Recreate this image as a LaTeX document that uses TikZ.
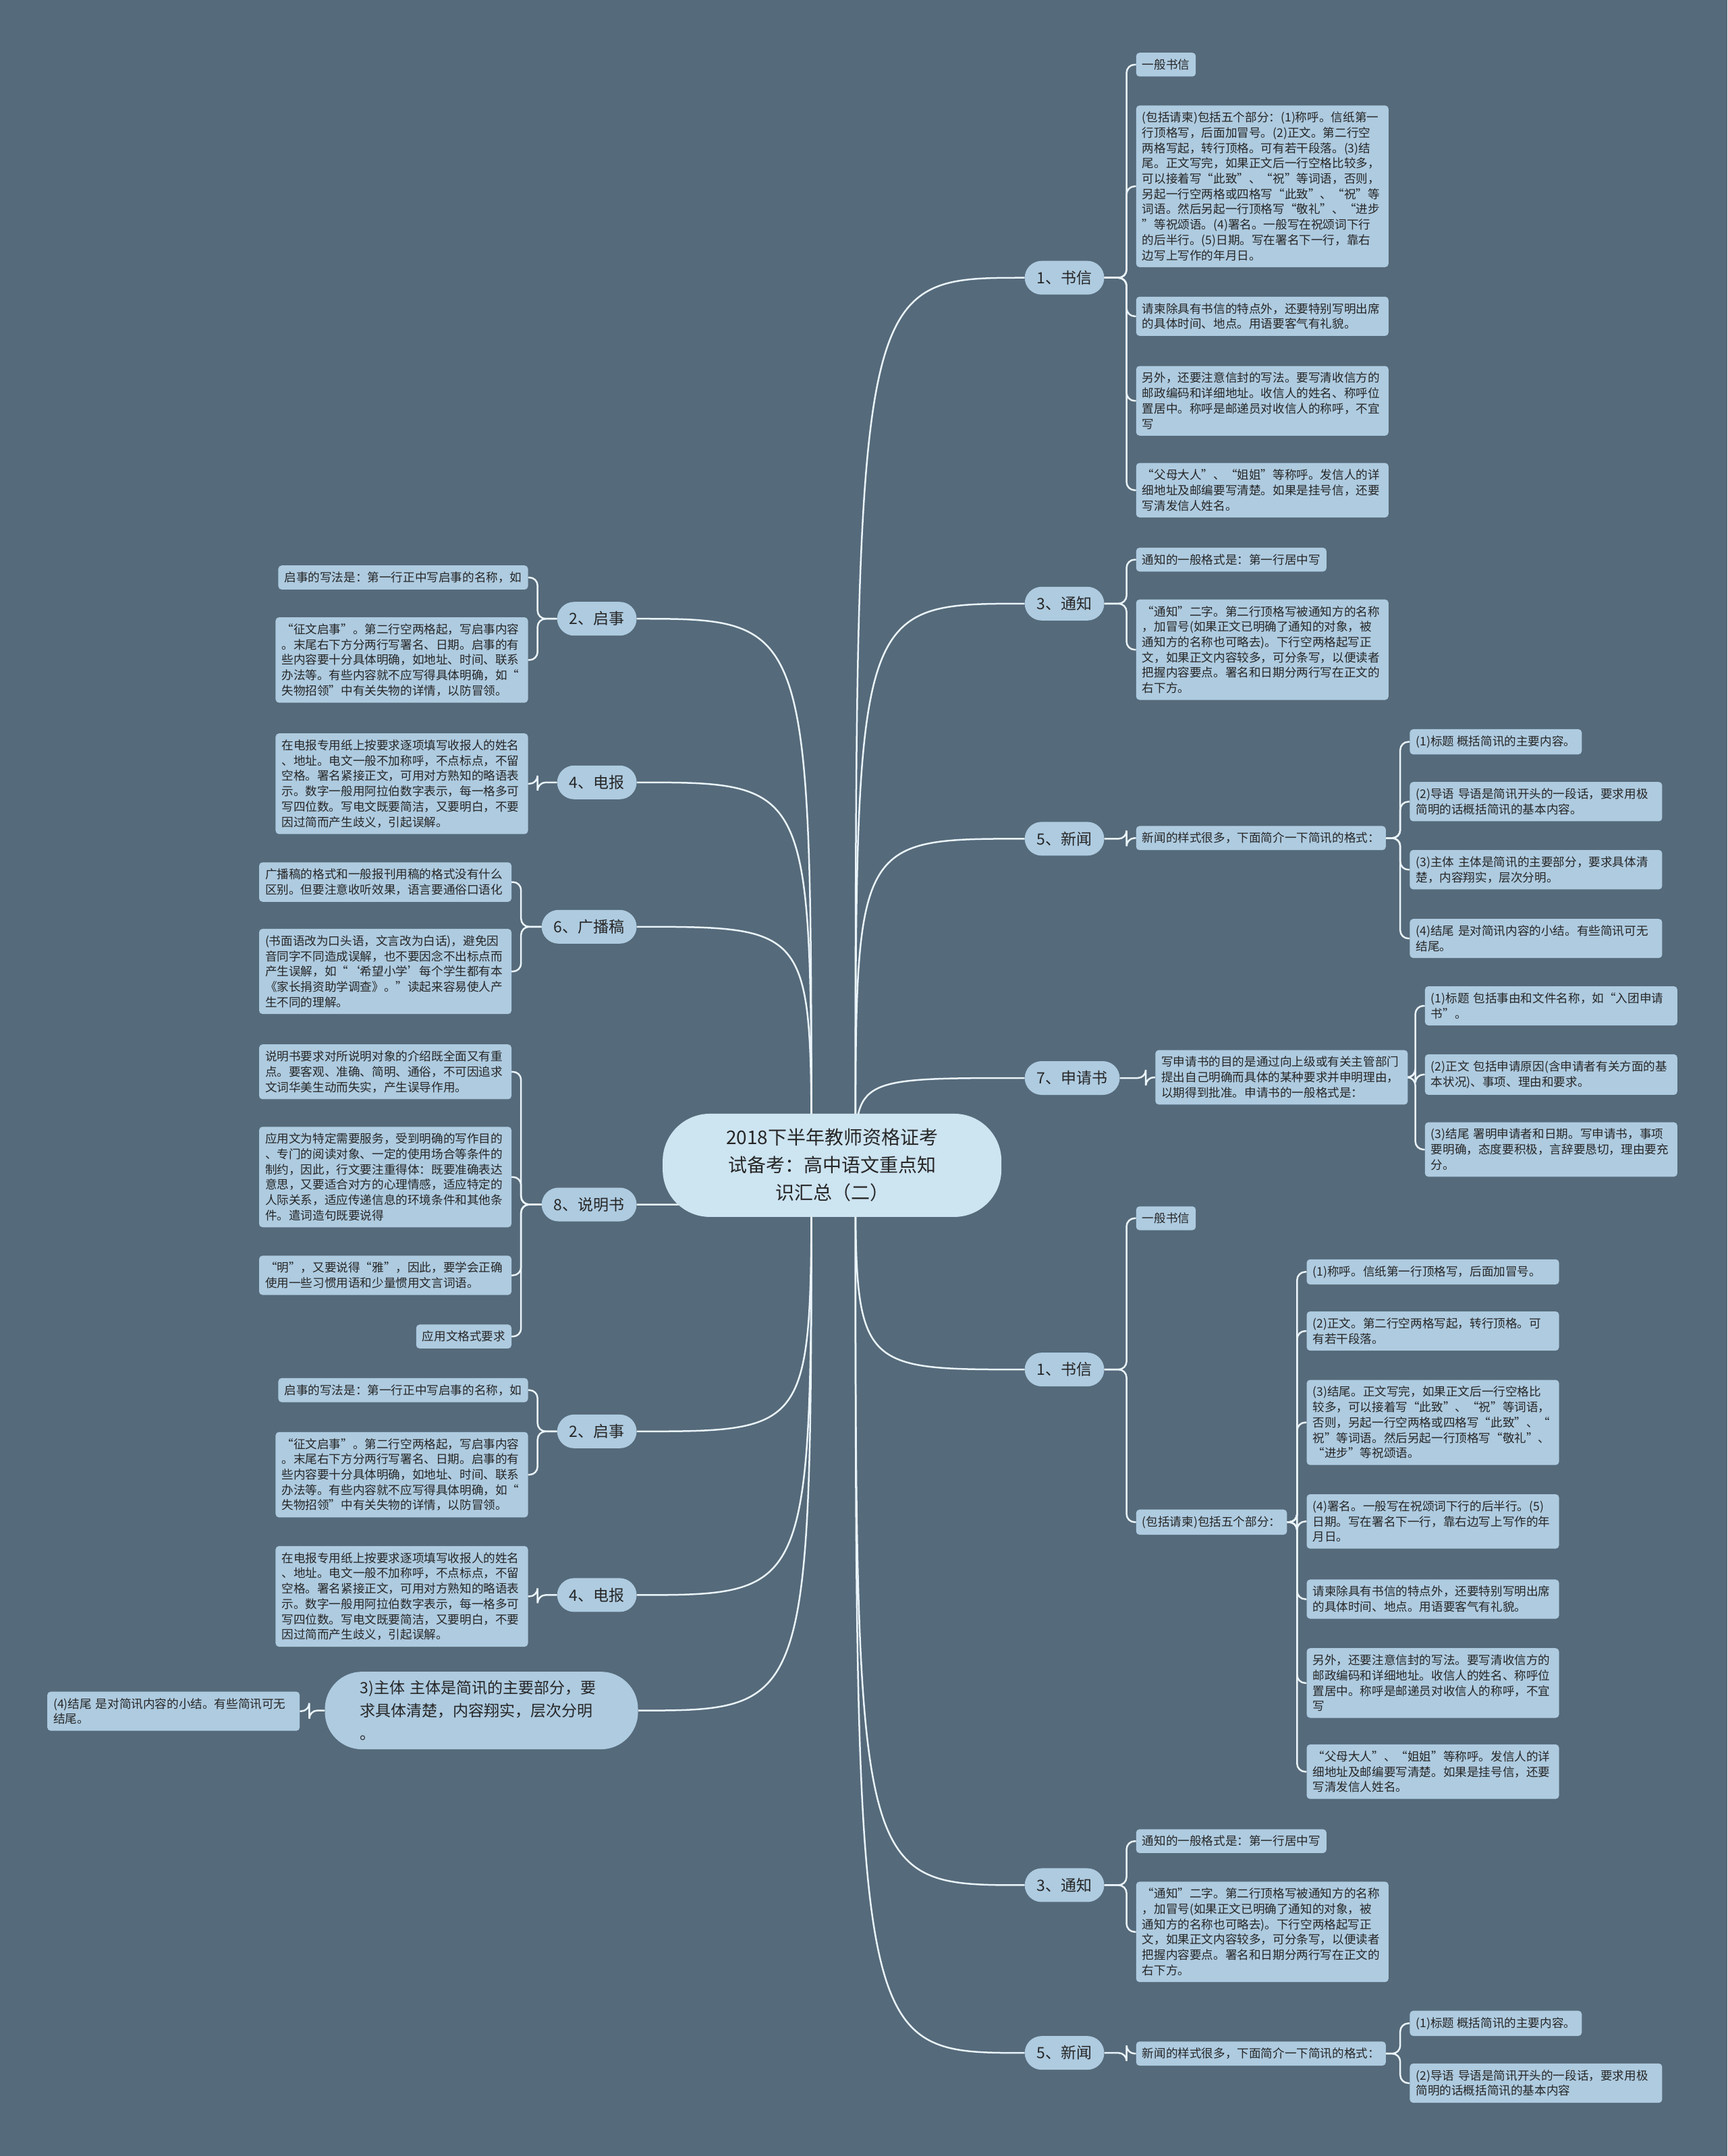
\documentclass[tikz,border=0pt]{standalone}
\usepackage{fontspec}
\setmainfont{Noto Sans CJK SC}
\definecolor{bgcol}{HTML}{556A7A}
\definecolor{boxcol}{HTML}{AECBE0}
\definecolor{rootcol}{HTML}{CDE4F1}
\definecolor{linecol}{HTML}{EAF4FA}
\definecolor{inkcol}{HTML}{262626}
\pgfdeclarelayer{back}
\pgfsetlayers{back,main}

\begin{document}
\begin{tikzpicture}[x=2.0382pt, y=-2.0382pt]
\tikzstyle{root}=[fill=rootcol, text=inkcol, rounded corners=70pt, align=center, minimum width=502pt, minimum height=153pt, font=\fontsize{28pt}{41pt}\selectfont]
\tikzstyle{topic}=[fill=boxcol, text=inkcol, rounded corners=25pt, minimum height=50pt, inner xsep=18pt, font=\fontsize{23pt}{30pt}\selectfont]
\tikzstyle{bigtopic}=[fill=boxcol, text=inkcol, rounded corners=55pt, minimum height=115pt, text width=360pt, align=left, inner xsep=52pt, inner ysep=12pt, font=\fontsize{23pt}{34pt}\selectfont]
\tikzstyle{leaf}=[fill=boxcol, text=inkcol, rounded corners=5pt, inner xsep=9pt, inner ysep=9.5pt, align=left, font=\fontsize{17.6pt}{22.7pt}\selectfont]
\tikzstyle{wide}=[leaf, text width=356pt]
\tikzstyle{hubr}=[draw=linecol, line width=2.5pt, to path={(\tikztostart) .. controls (\tikztostart |- \tikztotarget.west) .. (\tikztotarget.west)}]
\tikzstyle{hubl}=[draw=linecol, line width=2.5pt, to path={(\tikztostart) .. controls (\tikztostart |- \tikztotarget.east) .. (\tikztotarget.east)}]
\tikzstyle{rbr}=[draw=linecol, line width=2.5pt, rounded corners=12pt, to path={(\tikztostart) -| ([xshift=-14pt]\tikztotarget.west) -- (\tikztotarget.west)}]
\tikzstyle{lbr}=[draw=linecol, line width=2.5pt, rounded corners=12pt, to path={(\tikztostart) -| ([xshift=14pt]\tikztotarget.east) -- (\tikztotarget.east)}]

\useasboundingbox (0,0) rectangle (1256,1568);

\node[root] (top) at (605,847.5) {2018下半年教师资格证考\\试备考：高中语文重点知\\识汇总（二）};

% right side
\node[topic, anchor=west] (sx) at (745,202) {1、书信};
\node[leaf, anchor=west] (sxa) at (826,47) {一般书信};
\node[wide, anchor=west] (sxb) at (826,135.5) {(包括请柬)包括五个部分：(1)称呼。信纸第一\\行顶格写，后面加冒号。(2)正文。第二行空\\两格写起，转行顶格。可有若干段落。(3)结\\尾。正文写完，如果正文后一行空格比较多，\\可以接着写“此致”、“祝”等词语，否则，\\另起一行空两格或四格写“此致”、“祝”等\\词语。然后另起一行顶格写“敬礼”、“进步\\”等祝颂语。(4)署名。一般写在祝颂词下行\\的后半行。(5)日期。写在署名下一行，靠右\\边写上写作的年月日。};
\node[wide, anchor=west] (sxc) at (826,230) {请柬除具有书信的特点外，还要特别写明出席\\的具体时间、地点。用语要客气有礼貌。};
\node[wide, anchor=west] (sxd) at (826,291.5) {另外，还要注意信封的写法。要写清收信方的\\邮政编码和详细地址。收信人的姓名、称呼位\\置居中。称呼是邮递员对收信人的称呼，不宜\\写};
\node[wide, anchor=west] (sxe) at (826,356.5) {“父母大人”、“姐姐”等称呼。发信人的详\\细地址及邮编要写清楚。如果是挂号信，还要\\写清发信人姓名。};

\node[topic, anchor=west] (tz) at (745,439) {3、通知};
\node[leaf, anchor=west] (tza) at (826,407) {通知的一般格式是：第一行居中写};
\node[wide, anchor=west] (tzb) at (826,472.5) {“通知”二字。第二行顶格写被通知方的名称\\，加冒号(如果正文已明确了通知的对象，被\\通知方的名称也可略去)。下行空两格起写正\\文，如果正文内容较多，可分条写，以便读者\\把握内容要点。署名和日期分两行写在正文的\\右下方。};

\node[topic, anchor=west] (xw) at (745,610) {5、新闻};
\node[leaf, anchor=west] (xwa) at (826,609.5) {新闻的样式很多，下面简介一下简讯的格式：};
\node[leaf, anchor=west] (xwa1) at (1025,539.5) {(1)标题 概括简讯的主要内容。};
\node[wide, anchor=west] (xwa2) at (1025,583) {(2)导语 导语是简讯开头的一段话，要求用极\\简明的话概括简讯的基本内容。};
\node[wide, anchor=west] (xwa3) at (1025,632.5) {(3)主体 主体是简讯的主要部分，要求具体清\\楚，内容翔实，层次分明。};
\node[wide, anchor=west] (xwa4) at (1025,682.5) {(4)结尾 是对简讯内容的小结。有些简讯可无\\结尾。};

\node[topic, anchor=west] (sq) at (745,784) {7、申请书};
\node[wide, anchor=west] (sqa) at (840,783.5) {写申请书的目的是通过向上级或有关主管部门\\提出自己明确而具体的某种要求并申明理由，\\以期得到批准。申请书的一般格式是：};
\node[wide, anchor=west] (sqa1) at (1036,731.5) {(1)标题 包括事由和文件名称，如“入团申请\\书”。};
\node[wide, anchor=west] (sqa2) at (1036,781.5) {(2)正文 包括申请原因(含申请者有关方面的基\\本状况)、事项、理由和要求。};
\node[wide, anchor=west] (sqa3) at (1036,836) {(3)结尾 署明申请者和日期。写申请书，事项\\要明确，态度要积极，言辞要恳切，理由要充\\分。};

\node[topic, anchor=west] (sx2) at (745,996) {1、书信};
\node[leaf, anchor=west] (sx2a) at (826,886) {一般书信};
\node[leaf, anchor=west] (sx2b) at (826,1107) {(包括请柬)包括五个部分：};
\node[wide, anchor=west] (sx2b1) at (950,925) {(1)称呼。信纸第一行顶格写，后面加冒号。};
\node[wide, anchor=west] (sx2b2) at (950,968) {(2)正文。第二行空两格写起，转行顶格。可\\有若干段落。};
\node[wide, anchor=west] (sx2b3) at (950,1034.5) {(3)结尾。正文写完，如果正文后一行空格比\\较多，可以接着写“此致”、“祝”等词语，\\否则，另起一行空两格或四格写“此致”、“\\祝”等词语。然后另起一行顶格写“敬礼”、\\“进步”等祝颂语。};
\node[wide, anchor=west] (sx2b4) at (950,1106.5) {(4)署名。一般写在祝颂词下行的后半行。(5)\\日期。写在署名下一行，靠右边写上写作的年\\月日。};
\node[wide, anchor=west] (sx2b5) at (950,1163) {请柬除具有书信的特点外，还要特别写明出席\\的具体时间、地点。用语要客气有礼貌。};
\node[wide, anchor=west] (sx2b6) at (950,1224) {另外，还要注意信封的写法。要写清收信方的\\邮政编码和详细地址。收信人的姓名、称呼位\\置居中。称呼是邮递员对收信人的称呼，不宜\\写};
\node[wide, anchor=west] (sx2b7) at (950,1288.5) {“父母大人”、“姐姐”等称呼。发信人的详\\细地址及邮编要写清楚。如果是挂号信，还要\\写清发信人姓名。};

\node[topic, anchor=west] (tz2) at (745,1371) {3、通知};
\node[leaf, anchor=west] (tz2a) at (826,1339) {通知的一般格式是：第一行居中写};
\node[wide, anchor=west] (tz2b) at (826,1405) {“通知”二字。第二行顶格写被通知方的名称\\，加冒号(如果正文已明确了通知的对象，被\\通知方的名称也可略去)。下行空两格起写正\\文，如果正文内容较多，可分条写，以便读者\\把握内容要点。署名和日期分两行写在正文的\\右下方。};

\node[topic, anchor=west] (xw2) at (745,1493) {5、新闻};
\node[leaf, anchor=west] (xw2a) at (826,1493.5) {新闻的样式很多，下面简介一下简讯的格式：};
\node[leaf, anchor=west] (xw2a1) at (1025,1471.5) {(1)标题 概括简讯的主要内容。};
\node[wide, anchor=west] (xw2a2) at (1025,1515) {(2)导语 导语是简讯开头的一段话，要求用极\\简明的话概括简讯的基本内容};

% left side
\node[topic, anchor=east] (qs) at (463,450) {2、启事};
\node[leaf, anchor=east] (qsa) at (384,420) {启事的写法是：第一行正中写启事的名称，如};
\node[wide, anchor=east] (qsb) at (384,480) {“征文启事”。第二行空两格起，写启事内容\\。末尾右下方分两行写署名、日期。启事的有\\些内容要十分具体明确，如地址、时间、联系\\办法等。有些内容就不应写得具体明确，如“\\失物招领”中有关失物的详情，以防冒领。};

\node[topic, anchor=east] (db) at (463,569) {4、电报};
\node[wide, anchor=east] (dba) at (384,570) {在电报专用纸上按要求逐项填写收报人的姓名\\、地址。电文一般不加称呼，不点标点，不留\\空格。署名紧接正文，可用对方熟知的略语表\\示。数字一般用阿拉伯数字表示，每一格多可\\写四位数。写电文既要简洁，又要明白，不要\\因过简而产生歧义，引起误解。};

\node[topic, anchor=east] (gb) at (463,674) {6、广播稿};
\node[wide, anchor=east] (gba) at (372,641.5) {广播稿的格式和一般报刊用稿的格式没有什么\\区别。但要注意收听效果，语言要通俗口语化};
\node[wide, anchor=east] (gbb) at (372,706.5) {(书面语改为口头语，文言改为白话)，避免因\\音同字不同造成误解，也不要因念不出标点而\\产生误解，如“‘希望小学’每个学生都有本\\《家长捐资助学调查》。”读起来容易使人产\\生不同的理解。};

\node[topic, anchor=east] (sm) at (463,876) {8、说明书};
\node[wide, anchor=east] (sma) at (372,779.5) {说明书要求对所说明对象的介绍既全面又有重\\点。要客观、准确、简明、通俗，不可因追求\\文词华美生动而失实，产生误导作用。};
\node[wide, anchor=east] (smb) at (372,856) {应用文为特定需要服务，受到明确的写作目的\\、专门的阅读对象、一定的使用场合等条件的\\制约，因此，行文要注重得体：既要准确表达\\意思，又要适合对方的心理情感，适应特定的\\人际关系，适应传递信息的环境条件和其他条\\件。遣词造句既要说得};
\node[wide, anchor=east] (smc) at (372,927.5) {“明”，又要说得“雅”，因此，要学会正确\\使用一些习惯用语和少量惯用文言词语。};
\node[leaf, anchor=east] (smd) at (372,972) {应用文格式要求};

\node[topic, anchor=east] (qs2) at (463,1041) {2、启事};
\node[leaf, anchor=east] (qs2a) at (384,1011) {启事的写法是：第一行正中写启事的名称，如};
\node[wide, anchor=east] (qs2b) at (384,1072.5) {“征文启事”。第二行空两格起，写启事内容\\。末尾右下方分两行写署名、日期。启事的有\\些内容要十分具体明确，如地址、时间、联系\\办法等。有些内容就不应写得具体明确，如“\\失物招领”中有关失物的详情，以防冒领。};

\node[topic, anchor=east] (db2) at (463,1160) {4、电报};
\node[wide, anchor=east] (db2a) at (384,1161) {在电报专用纸上按要求逐项填写收报人的姓名\\、地址。电文一般不加称呼，不点标点，不留\\空格。署名紧接正文，可用对方熟知的略语表\\示。数字一般用阿拉伯数字表示，每一格多可\\写四位数。写电文既要简洁，又要明白，不要\\因过简而产生歧义，引起误解。};

\node[bigtopic, anchor=east] (zt) at (464,1244) {3)主体 主体是简讯的主要部分，要\\求具体清楚，内容翔实，层次分明\\。};
\node[wide, anchor=east] (zta) at (218,1244.5) {(4)结尾 是对简讯内容的小结。有些简讯可无\\结尾。};

\begin{pgfonlayer}{back}
\fill[bgcol] (0,0) rectangle (1256,1568);
\coordinate (hubR) at (622,847.5);
\coordinate (hubL) at (590,847.5);

\path (hubR) edge[hubr] (sx) edge[hubr] (tz) edge[hubr] (xw) edge[hubr] (sq)
             edge[hubr] (sx2) edge[hubr] (tz2) edge[hubr] (xw2);
\path (hubL) edge[hubl] (qs) edge[hubl] (db) edge[hubl] (gb) edge[hubl] (sm)
             edge[hubl] (qs2) edge[hubl] (db2) edge[hubl] (zt);

\path (sx.east) edge[rbr] (sxa) edge[rbr] (sxb) edge[rbr] (sxc)
                edge[rbr] (sxd) edge[rbr] (sxe);
\path (tz.east) edge[rbr] (tza) edge[rbr] (tzb);
\path (xw.east) edge[rbr] (xwa);
\path (xwa.east) edge[rbr] (xwa1) edge[rbr] (xwa2) edge[rbr] (xwa3) edge[rbr] (xwa4);
\path (sq.east) edge[rbr] (sqa);
\path (sqa.east) edge[rbr] (sqa1) edge[rbr] (sqa2) edge[rbr] (sqa3);
\path (sx2.east) edge[rbr] (sx2a) edge[rbr] (sx2b);
\path (sx2b.east) edge[rbr] (sx2b1) edge[rbr] (sx2b2) edge[rbr] (sx2b3)
                  edge[rbr] (sx2b4) edge[rbr] (sx2b5) edge[rbr] (sx2b6)
                  edge[rbr] (sx2b7);
\path (tz2.east) edge[rbr] (tz2a) edge[rbr] (tz2b);
\path (xw2.east) edge[rbr] (xw2a);
\path (xw2a.east) edge[rbr] (xw2a1) edge[rbr] (xw2a2);

\path (qs.west) edge[lbr] (qsa) edge[lbr] (qsb);
\path (db.west) edge[lbr] (dba);
\path (gb.west) edge[lbr] (gba) edge[lbr] (gbb);
\path (sm.west) edge[lbr] (sma) edge[lbr] (smb) edge[lbr] (smc) edge[lbr] (smd);
\path (qs2.west) edge[lbr] (qs2a) edge[lbr] (qs2b);
\path (db2.west) edge[lbr] (db2a);
\path (zt.west) edge[lbr] (zta);
\end{pgfonlayer}

\end{tikzpicture}
\end{document}
